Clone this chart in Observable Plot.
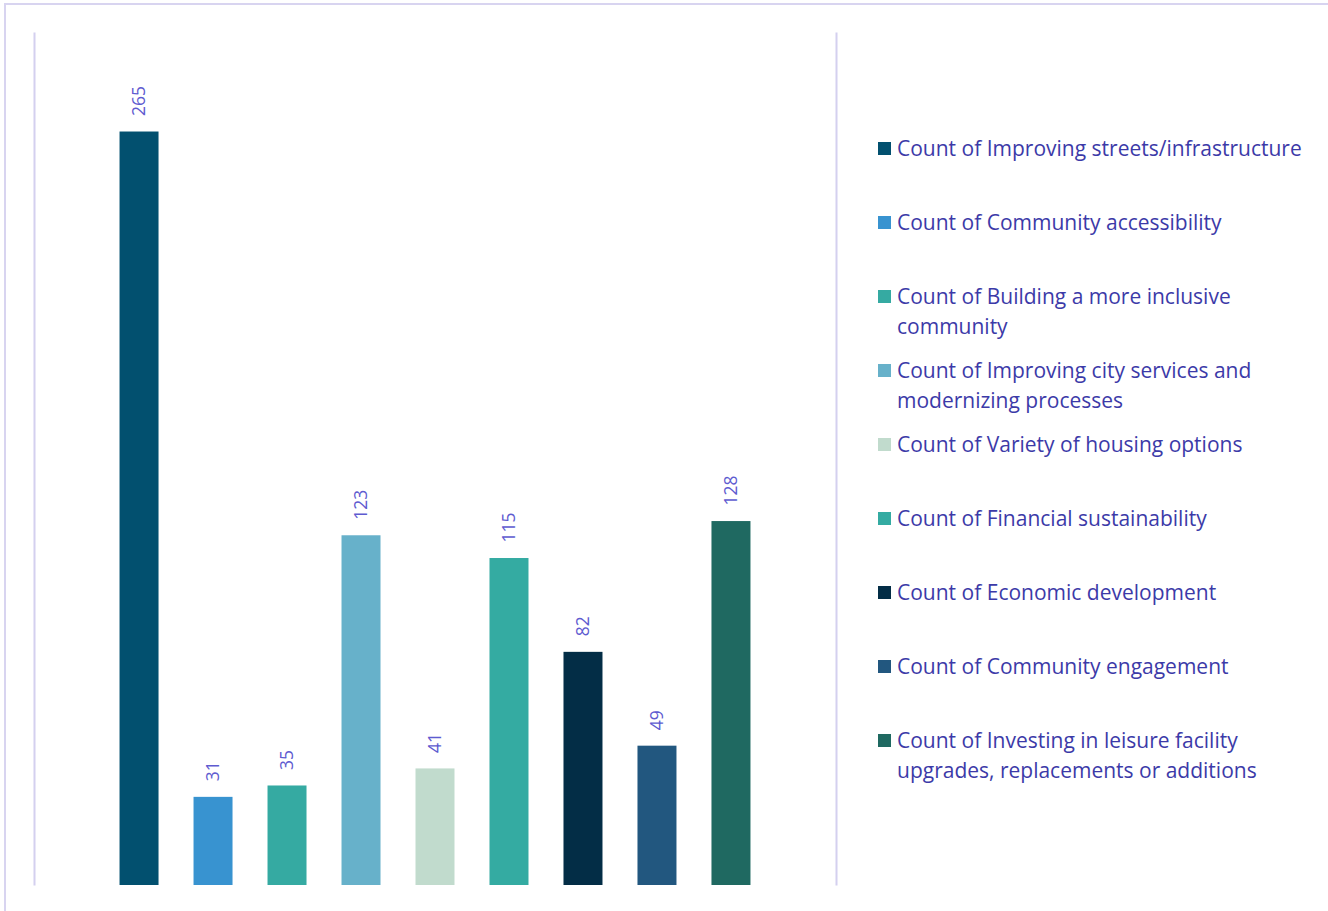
<!DOCTYPE html>
<html>
<head>
<meta charset="utf-8">
<script src="https://cdn.jsdelivr.net/npm/d3@7"></script>
<script src="https://cdn.jsdelivr.net/npm/@observablehq/plot@0.6"></script>
<style>
  html, body { margin: 0; padding: 0; background: #fff; overflow: hidden; }
  body { width: 1328px; height: 911px; position: relative; font-family: "Open Sans", Lato, sans-serif; }
  #border { position: absolute; left: 4px; top: 3px; width: 1400px; height: 1000px;
            border-top: 2px solid #d8d4f0; border-left: 2px solid #d8d4f0; }
  #chart { position: absolute; left: 0; top: 0; }
  #legend { position: absolute; left: 878px; top: 133px; }
  .item { height: 74px; display: flex; align-items: flex-start; }
  .sw { width: 13px; height: 13px; margin-top: 9px; margin-right: 6px; flex: none; }
  .lab { color: #3c3aa8; font-size: 21px; line-height: 30px; max-width: 420px; white-space: normal; }
</style>
</head>
<body>
<div id="border"></div>
<div id="chart"></div>
<div id="legend"></div>
<script>
const categories = [
  "Count of Improving streets/infrastructure",
  "Count of Community accessibility",
  "Count of Building a more inclusive community",
  "Count of Improving city services and modernizing processes",
  "Count of Variety of housing options",
  "Count of Financial sustainability",
  "Count of Economic development",
  "Count of Community engagement",
  "Count of Investing in leisure facility upgrades, replacements or additions"
];
const values = [265, 31, 35, 123, 41, 115, 82, 49, 128];
const colors = ["#02506f", "#3893d0", "#35aaa2", "#67b1ca", "#c1dbcd", "#34aba2", "#032d46", "#22577f", "#1f6961"];

const data = categories.map((c, i) => ({cat: c, value: values[i]}));

const W = 860, H = 911, mL = 34, mR = 24, mT = 32, mB = 26;
const fw = W - mL - mR, fh = H - mT - mB;

const chart = Plot.plot({
  width: W, height: H,
  marginLeft: mL, marginRight: mR, marginTop: mT, marginBottom: mB,
  style: {background: "transparent", fontFamily: "'Open Sans', Lato, sans-serif"},
  x: {domain: categories, paddingInner: 0.473, paddingOuter: 1.156, round: false, axis: null},
  y: {domain: [0, 300], axis: null},
  color: {domain: categories, range: colors},
  marks: [
    Plot.frame({stroke: "#d4d0ef", strokeWidth: 2, strokeDasharray: `0,${fw},${fh},${fw},${fh},0`}),
    Plot.barY(data, {x: "cat", y: "value", fill: "cat"}),
    Plot.text(data, {x: "cat", y: "value", text: d => String(d.value), rotate: -90,
      textAnchor: "start", dy: -16, fill: "#5e5bd0", fontSize: 17.5})
  ]
});
document.getElementById("chart").appendChild(chart);

const legend = d3.select("#legend");
categories.forEach((c, i) => {
  const it = legend.append("div").attr("class", "item");
  it.append("div").attr("class", "sw").style("background", colors[i]);
  it.append("div").attr("class", "lab").text(c);
});
</script>
</body>
</html>
